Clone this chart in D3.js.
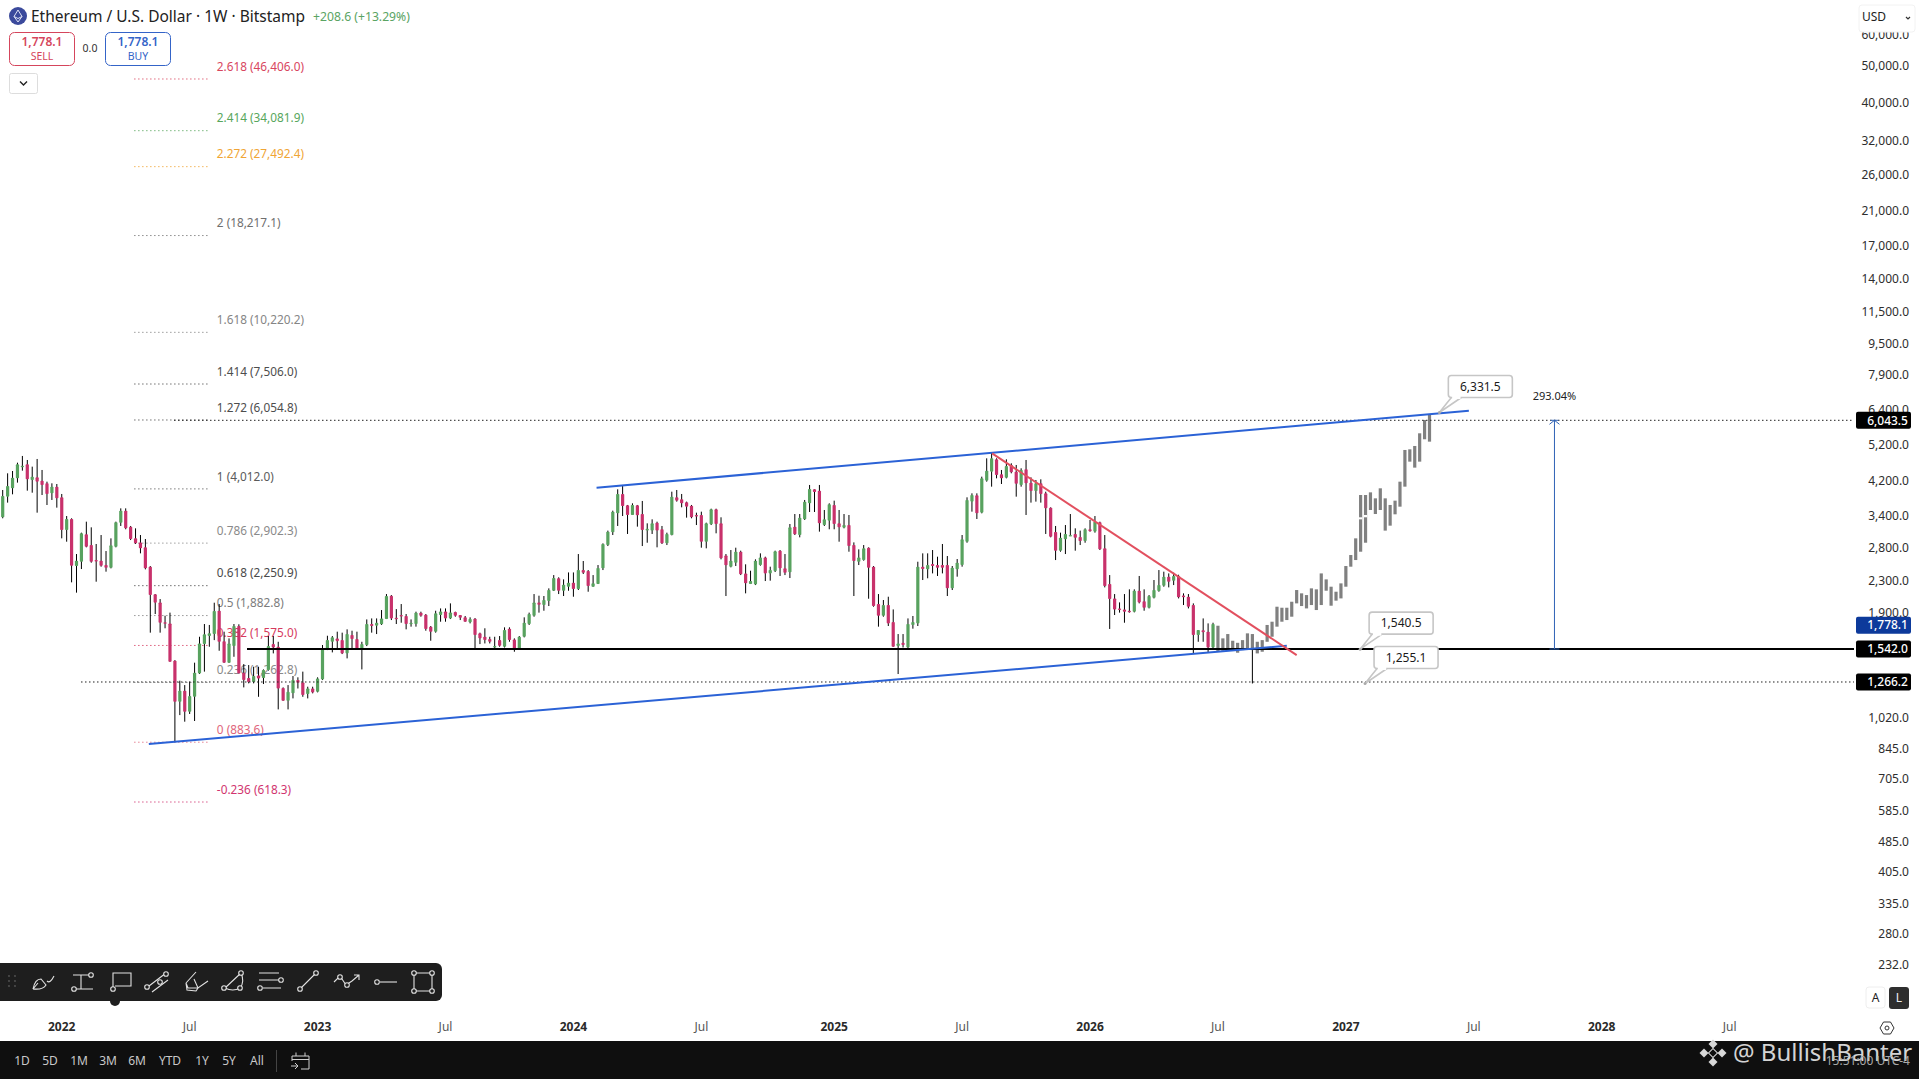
<!DOCTYPE html>
<html>
<head>
<meta charset="utf-8">
<script src="https://cdn.jsdelivr.net/npm/d3@7"></script>
<style>
html, body { margin: 0; padding: 0; background: #fff; }
svg { display: block; font-family: "Noto Sans", sans-serif; }
.axis text { font-family: "Noto Sans", sans-serif; font-size: 12px; fill: #2e2e2e; }
.axis .domain { display: none; }
</style>
</head>
<body>
<svg id="chart" width="1919" height="1079"></svg>
<script>
const width = 1919;
const height = 1079;
const axisLeft = 1854;

// weekly candles, first bar is the week of 2021-10-11
const opens = [
  3386,3830,4026,4273,4590,4646,4231,4299,4214,4148,
  3907,4066,3815,3139,3352,2531,2597,3058,2869,2623,
  2613,2546,2506,2841,3279,3523,3202,2986,2915,2830,
  2521,2137,2037,1808,1797,1437,1125,1202,1060,1159,
  1333,1588,1666,1686,1938,1616,1420,1569,1769,1339,
  1297,1266,1317,1297,1360,1588,1563,1221,1132,1183,
  1281,1263,1178,1218,1194,1286,1538,1610,1643,1626,
  1502,1676,1636,1547,1579,1790,1773,1787,1844,2120,
  1859,1889,1878,1790,1790,1916,1893,1762,1710,1889,
  1930,1851,1923,1889,1863,1808,1848,1693,1659,1636,
  1556,1626,1563,1741,1633,1541,1659,1790,1881,2037,
  2005,2054,2184,2352,2184,2237,2291,2206,2471,2456,
  2237,2273,2496,2869,3095,3467,3892,3638,3433,3638,
  3453,3127,3127,3279,3152,2898,3046,3815,3770,3703,
  3630,3433,3433,2927,3247,3551,3266,2697,2521,2582,
  2757,2422,2273,2268,2546,2665,2422,2456,2774,2496,
  2437,3202,3046,3345,3681,4002,3970,3233,3319,3645,
  3266,3183,3233,2869,2597,2623,2824,2521,2017,1881,
  2005,1811,1569,1600,1556,1780,1797,2521,2481,2562,
  2546,2546,2546,2215,2481,2546,2927,3718,3860,3481,
  4214,4447,4787,4377,4290,4628,4447,4107,4510,4165,
  3962,4148,3907,3587,3102,2774,2968,3034,3065,3010,
  2939,3152,3108,3286,2813,2273,2086,1965,1953,1938,
  1927,2184,2050,1973,2094,2180,2250,2375,2319,2385,
  2124,2107,2005,1676,1724,1710,1556
];
const closes = [
  3845,4082,4290,4646,4610,4248,4316,4189,4107,3892,
  4066,3792,3139,3352,2536,2613,3077,2841,2597,2607,
  2536,2506,2864,3286,3523,3170,2974,2898,2813,2496,
  2128,2034,1804,1797,1429,1125,1202,1060,1164,1339,
  1594,1683,1693,1934,1610,1420,1594,1769,1333,1281,
  1266,1312,1292,1360,1569,1556,1218,1132,1194,1281,
  1261,1171,1218,1190,1292,1547,1626,1653,1616,1502,
  1686,1636,1547,1588,1790,1769,1804,1851,2116,1851,
  1851,1878,1790,1804,1916,1881,1738,1710,1908,1930,
  1851,1919,1881,1859,1815,1844,1676,1643,1626,1610,
  1569,1572,1727,1626,1532,1659,1804,1900,2037,2009,
  2066,2193,2356,2184,2264,2291,2206,2471,2432,2246,
  2282,2501,2887,3108,3502,3892,3623,3433,3645,3426,
  3139,3164,3266,3127,2898,3065,3830,3740,3681,3608,
  3386,3412,2927,3266,3551,3253,2650,2541,2613,2757,
  2408,2282,2314,2613,2665,2422,2471,2763,2496,2432,
  3189,3058,3379,3718,4010,3938,3266,3345,3659,3253,
  3189,3233,2852,2608,2665,2813,2506,1993,1881,2005,
  1797,1563,1594,1579,1790,1811,2521,2486,2546,2531,
  2506,2506,2215,2506,2582,2968,3755,3868,3467,4273,
  4474,4816,4360,4273,4600,4430,4139,4492,4148,3962,
  4148,3892,3572,3016,2774,2998,3065,3046,2998,2939,
  3152,3114,3299,2796,2246,2078,1953,1946,1927,1923,
  2184,2037,1973,2116,2193,2259,2375,2305,2385,2099,
  2099,1985,1676,1727,1703,1556,1790
];
const highs = [
  3986,4403,4465,4692,4884,4768,4582,4797,4492,4189,
  4148,4131,3892,3412,3366,2719,3089,3299,3189,2887,
  3046,2768,2986,3299,3572,3572,3215,3170,3046,2974,
  2531,2141,2078,1881,1916,1443,1276,1243,1268,1421,
  1659,1790,1780,2033,2017,1710,1643,1790,1787,1409,
  1401,1387,1387,1365,1666,1666,1610,1226,1243,1312,
  1302,1347,1231,1231,1302,1579,1669,1666,1710,1700,
  1734,1720,1710,1610,1840,1851,1851,1946,2141,2128,
  1957,2017,1900,1840,1927,1927,1900,1769,1938,1965,
  1965,2025,1927,1889,1878,1863,1855,1700,1745,1659,
  1659,1666,1755,1755,1643,1666,1863,1916,2141,2120,
  2116,2215,2398,2366,2337,2436,2436,2719,2608,2471,
  2398,2546,2898,3127,3523,4002,4107,3645,3681,3645,
  3733,3266,3345,3299,3215,3089,3946,3986,3892,3718,
  3645,3481,3502,3279,3565,3565,3386,2719,2785,2824,
  2774,2557,2461,2634,2730,2676,2521,2774,2785,2719,
  3253,3453,3453,3755,4107,4002,4107,3537,3681,3740,
  3537,3453,3433,2915,2796,2869,2830,2531,2141,2066,
  2107,1953,1686,1686,1851,1878,2597,2730,2730,2785,
  2676,2887,2687,2531,2639,3046,3815,3907,3907,4316,
  4816,4982,4816,4492,4787,4674,4628,4537,4768,4299,
  4231,4248,3946,3594,3215,3089,3233,3453,3170,3127,
  3170,3332,3412,3299,3046,2398,2141,2037,2141,2202,
  2202,2385,2202,2128,2328,2471,2447,2422,2432,2403,
  2150,2141,2025,1727,1851,1797,1804
];
const lows = [
  3366,3696,3884,4165,4474,3970,3922,3481,3868,3644,
  3755,3587,2986,2927,2296,2159,2486,2830,2582,2305,
  2521,2447,2496,2830,3215,3152,2956,2887,2730,2481,
  1700,1900,1700,1745,1429,883.6,1039,999,1046,1003,
  1328,1347,1563,1626,1526,1420,1420,1472,1333,1226,
  1256,1256,1159,1251,1355,1502,1075,1132,1075,1148,
  1218,1159,1148,1183,1190,1281,1532,1511,1547,1496,
  1458,1547,1538,1365,1569,1700,1686,1780,1844,1833,
  1790,1804,1734,1762,1762,1870,1720,1620,1700,1815,
  1815,1844,1870,1833,1815,1797,1547,1588,1594,1594,
  1547,1563,1556,1610,1517,1541,1653,1780,1870,1916,
  1938,1993,2180,2141,2116,2184,2107,2193,2413,2171,
  2237,2273,2471,2852,3046,3215,3412,3065,3433,3202,
  2852,2909,3065,2830,2887,2869,3040,3718,3594,3379,
  3366,3233,2824,2813,3233,3077,2634,2116,2511,2531,
  2398,2150,2273,2259,2536,2314,2319,2442,2385,2398,
  2356,3046,3004,3332,3495,3495,3108,3215,3152,3152,
  2927,3170,2757,2116,2546,2613,2082,1985,1762,1870,
  1769,1563,1328,1556,1547,1741,1769,2328,2352,2422,
  2385,2422,2116,2193,2375,2521,2909,3502,3352,3467,
  4189,4066,4273,4131,4273,4403,3830,4066,3433,3696,
  3718,3696,3065,3004,2623,2757,2719,3028,2774,2869,
  2909,3108,3089,2785,2228,1738,1889,1916,1804,1916,
  1919,2025,1938,1965,2086,2171,2237,2228,2259,2086,
  2005,1965,1502,1610,1610,1508,1547
];

// grey projected bars, they carry on right after the candles
const ghostHighs = [
  1772,1643,1686,1620,1600,1626,1693,1686,1610,1626,
  1780,1815,1985,1973,1973,2045,2193,2150,2128,2215,
  2202,2422,2337,2237,2171,2282,2531,2703,2986,3868,
  3868,3930,3792,4026,3792,3645,3740,4189,5062,5082,
  5184,5592,6056,6240
];
const ghostLows = [
  1517,1526,1532,1526,1508,1532,1538,1532,1502,1517,
  1610,1659,1762,1815,1833,1870,2025,1993,1965,2005,
  1946,2005,2184,1997,2058,2086,2237,2521,2623,2757,
  2909,3537,3453,3537,3127,3221,3447,3608,4066,4721,
  4555,4721,5396,5320
];
const ghostGapWeeks = [276, 277];
const ghostGapHighs = [3386, 3433];
const ghostGapLows = [3345, 3386];

// the one real wick poking out under the projection
const spikeWeek = 254;
const spikeHigh = 1532;
const spikeLow = 1255.1;

const priceTicks = [60000, 50000, 40000, 32000, 26000, 21000, 17000, 14000, 11500, 9500, 7900, 6400, 5200, 4200, 3400, 2800, 2300, 1900, 1550, 1260, 1020, 845, 705, 585, 485, 405, 335, 280, 232];
const timeTicks = ['2022-01-03', '2022-07-04', '2023-01-02', '2023-07-03', '2024-01-01', '2024-07-01', '2025-01-06', '2025-07-07', '2026-01-05', '2026-07-06', '2027-01-04', '2027-07-05', '2028-01-03', '2028-07-03'];

const fibRatios = ['2.618', '2.414', '2.272', '2', '1.618', '1.414', '1.272', '1', '0.786', '0.618', '0.5', '0.382', '0.236', '0', '-0.236'];
const fibPrices = [46406.0, 34081.9, 27492.4, 18217.1, 10220.2, 7506.0, 6054.8, 4012.0, 2902.3, 2250.9, 1882.8, 1575.0, 1262.8, 883.6, 618.3];
const fibColors = ['#d8465e', '#57a65c', '#f0a535', '#6f6f6f', '#858585', '#4d4d4d', '#4d4d4d', '#5a5a5a', '#8a8a8a', '#4a4a4a', '#7c7c7c', '#d63a5e', '#8a8a8a', '#e0667c', '#d1356f'];

// drawn lines: week index and price at both ends
const trendLines = [
  { from: [120.7, 4042], to: [298, 6401], color: '#2b62d6' },
  { from: [29.7, 874], to: [261, 1572], color: '#2b62d6' },
  { from: [201.1, 4962], to: [263, 1487], color: '#e2505f' }
];

const callouts = [
  { week: 292, price: 6331.5 },
  { week: 275.9, price: 1540.5 },
  { week: 276.9, price: 1255.1 }
];

const priceTags = [
  { price: 6043.5, color: '#000' },
  { price: 1778.1, color: '#0d3a9b' },
  { price: 1542.0, color: '#000' },
  { price: 1266.2, color: '#000' }
];

const measureWeek = 315.4;
const measureFrom = 1542.0;
const measureTo = 6043.5;
const measurePercent = 293.04;

const rangeButtons = ['1D', '5D', '1M', '3M', '6M', 'YTD', '1Y', '5Y', 'All'];
const rangeButtonX = [22, 50, 79, 108, 137, 170, 202, 229, 257];

const parseDay = d3.utcParse('%Y-%m-%d');
const firstWeek = parseDay('2021-10-11');
const weekDate = i => new Date(+firstWeek + i * 6048e5);

const x = d3.scaleUtc()
  .domain([weekDate(0), weekDate(290)])
  .range([2.7, 1429.5]);
const xWeek = i => x(weekDate(i));

const y = d3.scaleLog()
  .domain([1542, 6043.5])
  .range([649, 420.3]);

const fmtPrice = d3.format(',.1f');
const svg = d3.select('#chart');

svg.append('rect').attr('width', width).attr('height', height).attr('fill', '#fff');

// fib levels
const fibStart = xWeek(26.7);
const fibEnd = xWeek(41.7);
const fib = svg.append('g').attr('class', 'fib').selectAll('g')
  .data(fibRatios)
  .join('g');
fib.append('line')
  .attr('x1', fibStart)
  .attr('x2', fibEnd)
  .attr('y1', (d, i) => y(fibPrices[i]))
  .attr('y2', (d, i) => y(fibPrices[i]))
  .attr('stroke', (d, i) => fibColors[i])
  .attr('stroke-opacity', 0.8)
  .attr('stroke-dasharray', '1.5 2.5');
fib.append('text')
  .attr('x', fibEnd + 9)
  .attr('y', (d, i) => y(fibPrices[i]) - 12.5)
  .attr('dy', '0.35em')
  .attr('font-size', 11.8)
  .attr('fill', (d, i) => fibColors[i])
  .text((d, i) => `${d} (${fmtPrice(fibPrices[i])})`);

// candles
const candleWeeks = d3.range(opens.length);
const candleWidth = 3.2;
const candles = svg.append('g').attr('class', 'candles').selectAll('g')
  .data(candleWeeks)
  .join('g');
candles.append('line')
  .attr('x1', i => xWeek(i))
  .attr('x2', i => xWeek(i))
  .attr('y1', i => y(highs[i]))
  .attr('y2', i => y(lows[i]))
  .attr('stroke', '#000')
  .attr('stroke-width', 1);
candles.append('rect')
  .attr('x', i => xWeek(i) - candleWidth / 2)
  .attr('width', candleWidth)
  .attr('y', i => y(Math.max(opens[i], closes[i])))
  .attr('height', i => Math.max(1.5, Math.abs(y(opens[i]) - y(closes[i]))))
  .attr('rx', 0.8)
  .attr('fill', i => closes[i] >= opens[i] ? '#58a25f' : '#c8316b');

// projected bars
const ghostStart = opens.length;
svg.append('g').attr('class', 'ghost').selectAll('rect')
  .data(ghostHighs)
  .join('rect')
  .attr('x', (d, i) => xWeek(ghostStart + i) - candleWidth / 2)
  .attr('width', candleWidth)
  .attr('y', d => y(d))
  .attr('height', (d, i) => y(ghostLows[i]) - y(d))
  .attr('fill', '#808080');
svg.append('g').attr('class', 'ghost-gaps').selectAll('rect')
  .data(ghostGapWeeks)
  .join('rect')
  .attr('x', d => xWeek(d) - candleWidth / 2)
  .attr('width', candleWidth)
  .attr('y', (d, i) => y(ghostGapHighs[i]))
  .attr('height', (d, i) => y(ghostGapLows[i]) - y(ghostGapHighs[i]))
  .attr('fill', '#fff');
svg.append('line')
  .attr('x1', xWeek(spikeWeek))
  .attr('x2', xWeek(spikeWeek))
  .attr('y1', y(spikeHigh))
  .attr('y2', y(spikeLow))
  .attr('stroke', '#000');

// horizontal levels
svg.append('line')
  .attr('x1', 174).attr('x2', axisLeft)
  .attr('y1', y(6043.5)).attr('y2', y(6043.5))
  .attr('stroke', '#222').attr('stroke-dasharray', '1.5 2.5');
svg.append('line')
  .attr('x1', 81).attr('x2', axisLeft)
  .attr('y1', y(1266.2)).attr('y2', y(1266.2))
  .attr('stroke', '#222').attr('stroke-dasharray', '1.5 2.5');
svg.append('line')
  .attr('x1', 247).attr('x2', axisLeft)
  .attr('y1', y(1542)).attr('y2', y(1542))
  .attr('stroke', '#000').attr('stroke-width', 2);

// trend lines
svg.append('g').attr('class', 'trend').selectAll('line')
  .data(trendLines)
  .join('line')
  .attr('x1', d => xWeek(d.from[0]))
  .attr('y1', d => y(d.from[1]))
  .attr('x2', d => xWeek(d.to[0]))
  .attr('y2', d => y(d.to[1]))
  .attr('stroke', d => d.color)
  .attr('stroke-width', 2);

// percent range arrow
const mx = xWeek(measureWeek);
const measure = svg.append('g').attr('class', 'measure');
measure.append('line')
  .attr('x1', mx).attr('x2', mx)
  .attr('y1', y(measureFrom)).attr('y2', y(measureTo))
  .attr('stroke', '#2f62b5');
measure.append('path')
  .attr('d', `M${mx - 5},${y(measureTo) + 4} L${mx},${y(measureTo)} L${mx + 5},${y(measureTo) + 4} M${mx - 4},${y(measureTo)} H${mx + 4} M${mx - 5},${y(measureFrom)} H${mx + 5}`)
  .attr('fill', 'none')
  .attr('stroke', '#2f62b5');
measure.append('text')
  .attr('x', mx)
  .attr('y', 396.6)
  .attr('dy', '0.35em')
  .attr('text-anchor', 'middle')
  .attr('font-size', 11)
  .attr('fill', '#222')
  .text(`${d3.format('.2f')(measurePercent)}%`);

// price callouts, box sits up and to the right of the anchor point
const callout = svg.append('g').attr('class', 'callouts').selectAll('g')
  .data(callouts)
  .join('g')
  .attr('transform', d => `translate(${xWeek(d.week)},${y(d.price)})`);
callout.append('path')
  .attr('d', 'M12,-15 L0,0 L22,-15')
  .attr('fill', '#fff')
  .attr('stroke', '#c6c6c6')
  .attr('stroke-width', 1.6);
callout.append('rect')
  .attr('x', 9)
  .attr('y', -37)
  .attr('width', 64)
  .attr('height', 22)
  .attr('rx', 3)
  .attr('fill', '#fff')
  .attr('stroke', '#c6c6c6')
  .attr('stroke-width', 1.6);
callout.append('rect')
  .attr('x', 12.8)
  .attr('y', -16.5)
  .attr('width', 8.4)
  .attr('height', 3)
  .attr('fill', '#fff');
callout.append('circle')
  .attr('r', 1.5)
  .attr('fill', '#aaa');
callout.append('text')
  .attr('x', 41)
  .attr('y', -26)
  .attr('dy', '0.35em')
  .attr('text-anchor', 'middle')
  .attr('font-size', 12)
  .attr('fill', '#1a1a1a')
  .text(d => fmtPrice(d.price));

// axes
const yAxis = d3.axisRight(y)
  .tickValues(priceTicks)
  .tickSize(0)
  .tickPadding(0)
  .tickFormat(fmtPrice);
svg.append('g')
  .attr('class', 'axis axis--y')
  .attr('transform', 'translate(1909,-1)')
  .call(yAxis)
  .selectAll('text')
  .attr('text-anchor', 'end');

const fmtYear = d3.utcFormat('%Y');
const fmtMonth = d3.utcFormat('%b');
const xAxis = d3.axisBottom(x)
  .tickValues(timeTicks.map(parseDay))
  .tickSize(0)
  .tickPadding(0)
  .tickFormat(d => d.getUTCMonth() === 0 ? fmtYear(d) : fmtMonth(d));
svg.append('g')
  .attr('class', 'axis axis--x')
  .attr('transform', 'translate(-0.5,1022)')
  .call(xAxis)
  .selectAll('text')
  .attr('font-weight', d => d.getUTCMonth() === 0 ? 700 : 400)
  .style('fill', d => d.getUTCMonth() === 0 ? '#2a2a2a' : '#555');

// price tags on the scale
const tag = svg.append('g').attr('class', 'tags').selectAll('g')
  .data(priceTags)
  .join('g')
  .attr('transform', d => `translate(1856,${y(d.price)})`);
tag.append('rect')
  .attr('y', -8.5)
  .attr('width', 55)
  .attr('height', 17)
  .attr('rx', 2)
  .attr('fill', d => d.color);
tag.append('text')
  .attr('x', 52)
  .attr('dy', '0.35em')
  .attr('text-anchor', 'end')
  .attr('font-size', 12)
  .attr('font-weight', 500)
  .attr('fill', '#fff')
  .text(d => fmtPrice(d.price));

// header
const header = svg.append('g').attr('class', 'header');
header.append('circle').attr('cx', 18).attr('cy', 16).attr('r', 9).attr('fill', '#3b4a9c');
header.append('path').attr('d', 'M18,10 L22,16.5 L18,22 L14,16.5 Z M14,16.5 L18,18.5 L22,16.5').attr('fill', 'none').attr('stroke', '#dfe3f5');
header.append('text').attr('x', 31).attr('y', 16.5).attr('dy', '0.35em').attr('font-size', 15.5).attr('fill', '#222')
  .text('Ethereum / U.S. Dollar · 1W · Bitstamp');
header.append('text').attr('x', 313).attr('y', 16.5).attr('dy', '0.35em').attr('font-size', 12.2).attr('fill', '#5aa463')
  .text('+208.6 (+13.29%)');

const tradeBoxes = [
  { x: 9.5, label: '1,778.1', side: 'SELL', color: '#d5455c' },
  { x: 105.5, label: '1,778.1', side: 'BUY', color: '#3464c8' }
];
const box = header.selectAll('g.trade').data(tradeBoxes).join('g').attr('class', 'trade')
  .attr('transform', d => `translate(${d.x},32.5)`);
box.append('rect').attr('width', 65).attr('height', 33).attr('rx', 5).attr('fill', '#fff').attr('stroke', d => d.color);
box.append('text').attr('x', 32.5).attr('y', 9.5).attr('dy', '0.35em').attr('text-anchor', 'middle').attr('font-size', 12).attr('font-weight', 600).attr('fill', d => d.color).text(d => d.label);
box.append('text').attr('x', 32.5).attr('y', 23.5).attr('dy', '0.35em').attr('text-anchor', 'middle').attr('font-size', 10.5).attr('fill', d => d.color).text(d => d.side);
header.append('text').attr('x', 90).attr('y', 48.5).attr('dy', '0.35em').attr('text-anchor', 'middle').attr('font-size', 10.5).attr('fill', '#333').text('0.0');
header.append('rect').attr('x', 9.5).attr('y', 73.5).attr('width', 28).attr('height', 20).attr('rx', 2).attr('fill', '#fff').attr('stroke', '#ddd');
header.append('path').attr('d', 'M20,81.5 L23.5,85 L27,81.5').attr('fill', 'none').attr('stroke', '#222').attr('stroke-width', 1.4);

// currency select on top of the scale, it clips the 60,000 label
const usd = svg.append('g').attr('class', 'usd');
usd.append('rect').attr('x', 1859).attr('y', 5).attr('width', 56).attr('height', 27).attr('rx', 3).attr('fill', '#fff').attr('stroke', '#f2f2f2');
usd.append('text').attr('x', 1862).attr('y', 17).attr('dy', '0.35em').attr('font-size', 12).attr('fill', '#222').text('USD');
usd.append('path').attr('d', 'M1906,17 L1908,19 L1910,17').attr('fill', 'none').attr('stroke', '#333').attr('stroke-width', 1.2);

// drawing toolbar
const tools = svg.append('g').attr('class', 'tools');
tools.append('rect').attr('x', -6).attr('y', 963).attr('width', 448).attr('height', 38).attr('rx', 6).attr('fill', '#1e1e1e');
tools.append('circle').attr('cx', 115).attr('cy', 1001).attr('r', 5).attr('fill', '#1e1e1e');
const toolIcons = [
  { x: 43, d: 'M-10,7 Q-8,-3 -2,-3 L3,3 Q0,8 -10,7 M-5,1 L-10,7 M4,-1 Q7,2 11,-6', dots: [] },
  { x: 82, d: 'M-9,-7 H7 M-1,-7 V7 M-6,7 H11', dots: [[9, -7], [-8, 7]] },
  { x: 120, d: 'M-7,5 V-9 H11 V4 H-5', dots: [[-7, 7]] },
  { x: 157, d: 'M-8,4 L9,-9 M-5,10 L11,-2', dots: [[-10, 5], [9, -8], [3, 0]] },
  { x: 195, d: 'M-9,1 L1,-10 M-1,-3 L3,6 L13,-1 M-9,1 L-7,6 L3,6 L1,9 L-8,8 Z', dots: [] },
  { x: 233, d: 'M-8,6 L8,-9 Q12,0 7,6 Q0,10 -8,6', dots: [[-9, 6], [8, -9], [7, 6]] },
  { x: 270, d: 'M-11,-9 H9 M-11,-2 H9 M-7,6 H11', dots: [[11, -2], [-10, 6]] },
  { x: 308, d: 'M-7,6 L7,-8', dots: [[-8, 7], [8, -9]] },
  { x: 347, d: 'M-13,0 L-7,-6 L-1,3 L5,-1 L12,-7 M7,-7 H12 V-2', dots: [[-7, -5], [0, 3]] },
  { x: 386, d: 'M-6,0 H11', dots: [[-9, 0]] },
  { x: 423, d: 'M-9,-9 H9 V9 H-9 Z', dots: [[-9, -9], [9, -9], [-9, 9], [9, 9]] }
];
const icon = tools.selectAll('g.icon').data(toolIcons).join('g').attr('class', 'icon')
  .attr('transform', d => `translate(${d.x},982)`);
icon.append('path').attr('d', d => d.d).attr('fill', 'none').attr('stroke', '#e2e2e2').attr('stroke-width', 1.1);
icon.selectAll('circle').data(d => d.dots).join('circle')
  .attr('cx', d => d[0]).attr('cy', d => d[1]).attr('r', 2.3)
  .attr('fill', '#1e1e1e').attr('stroke', '#e2e2e2').attr('stroke-width', 1.1);
tools.selectAll('circle.grip').data(d3.range(6)).join('circle').attr('class', 'grip')
  .attr('cx', i => 9 + (i % 2) * 6)
  .attr('cy', i => 976 + Math.floor(i / 2) * 5)
  .attr('r', 0.9)
  .attr('fill', '#555');

// bottom bar
const bar = svg.append('g').attr('class', 'bottom');
bar.append('rect').attr('x', 0).attr('y', 1041).attr('width', width).attr('height', 38).attr('fill', '#0f0f0f');
bar.selectAll('text.range').data(rangeButtons).join('text').attr('class', 'range')
  .attr('x', (d, i) => rangeButtonX[i])
  .attr('y', 1061)
  .attr('dy', '0.35em')
  .attr('text-anchor', 'middle')
  .attr('font-size', 12)
  .attr('fill', '#c9c9c9')
  .text(d => d);
bar.append('line').attr('x1', 276.5).attr('x2', 276.5).attr('y1', 1050).attr('y2', 1072).attr('stroke', '#444');
bar.append('path').attr('d', 'M292,1056 H309 V1069 H301 M292,1056 V1061 M292,1059.5 H309 M296,1052.5 V1056 M305,1052.5 V1056 M291,1066 H298 M295,1063 L298,1066 L295,1069')
  .attr('fill', 'none').attr('stroke', '#d0d0d0');

// watermark, the session clock shows through it
const mark = svg.append('g').attr('class', 'watermark');
[[0, -9], [-9, 0], [9, 0], [0, 0], [0, 9]].forEach(p => {
  mark.append('rect')
    .attr('x', -3.2).attr('y', -3.2).attr('width', 6.4).attr('height', 6.4)
    .attr('fill', p[0] === 0 && p[1] === 0 ? 'none' : '#d8d8d8')
    .attr('stroke', p[0] === 0 && p[1] === 0 ? '#d8d8d8' : 'none')
    .attr('transform', `translate(${1713 + p[0]},${1053 + p[1]}) rotate(45)`);
});
mark.append('text').attr('x', 1733).attr('y', 1053).attr('dy', '0.35em').attr('font-size', 24).attr('fill', '#d4d4d4').text('@ BullishBanter');
bar.append('text').attr('x', 1910).attr('y', 1061).attr('dy', '0.35em').attr('text-anchor', 'end').attr('font-size', 12).attr('fill', '#a8a8a8').text('15:51:00 UTC-4');
svg.node().appendChild(bar.select('text:last-of-type').node());

// A / L buttons and settings
const corner = svg.append('g').attr('class', 'corner');
corner.append('rect').attr('x', 1866).attr('y', 987).attr('width', 19).attr('height', 21).attr('rx', 3).attr('fill', '#fff').attr('stroke', '#eee');
corner.append('text').attr('x', 1875.5).attr('y', 998).attr('dy', '0.35em').attr('text-anchor', 'middle').attr('font-size', 12).attr('fill', '#222').text('A');
corner.append('rect').attr('x', 1889).attr('y', 987).attr('width', 20).attr('height', 22).attr('rx', 3).attr('fill', '#2e2e2e');
corner.append('text').attr('x', 1899).attr('y', 998).attr('dy', '0.35em').attr('text-anchor', 'middle').attr('font-size', 12).attr('fill', '#eee').text('L');
corner.append('path').attr('d', 'M1880,1028 L1883.5,1022 H1890.5 L1894,1028 L1890.5,1034 H1883.5 Z').attr('fill', 'none').attr('stroke', '#333');
corner.append('circle').attr('cx', 1887).attr('cy', 1028).attr('r', 2).attr('fill', 'none').attr('stroke', '#333');
</script>
</body>
</html>
